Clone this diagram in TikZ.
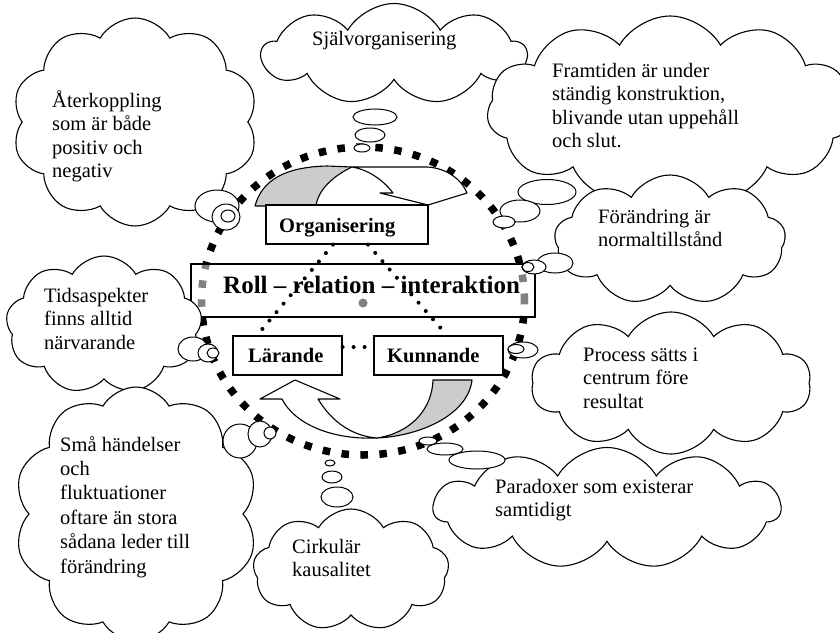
\documentclass[tikz,border=0pt]{standalone}
\usepackage{fontspec}
\setmainfont{Liberation Serif}
\usetikzlibrary{shapes.symbols,shapes.geometric}
\tikzset{
 cloudbox/.style={cloud, cloud puffs=#1, cloud puff arc=120, cloud ignores aspect, draw, fill=white, line width=1.1pt, inner sep=0pt},
 bub/.style={ellipse, draw, fill=white, line width=1pt, inner sep=0pt},
 ctext/.style={font=\fontsize{20.5}{23.5}\selectfont, align=left, anchor=base west, inner sep=0pt},
 lbox/.style={rectangle, draw, line width=1.2pt, fill=white, inner sep=0pt},
 ltext/.style={font=\bfseries\fontsize{20.5}{24}\selectfont, anchor=base west, inner sep=0pt},
 ringline/.style={line width=7.5pt, dash pattern=on 7.5pt off 11.5pt},
 dotline/.style={line width=4pt, line cap=round, dash pattern=on 0pt off 11pt},
 arrowbody/.style={draw, line width=1.1pt, line join=round}
}
\begin{document}
\begin{tikzpicture}[x=1pt,y=-1pt]
\useasboundingbox (0,0) rectangle (840,632);
% big dashed ring
\draw[ringline] (363,301) ellipse [x radius=161.5pt, y radius=154pt];
% top curved arrow
\filldraw[arrowbody, fill=white] (352,167) -- (427,167) .. controls (447,168) and (462,180) .. (467,193) -- (428,205) -- (380,193) -- (393,193) .. controls (385,182) and (370,170) .. (352,167) -- cycle;
\filldraw[arrowbody, fill=gray!40] (255,206) .. controls (262,180) and (285,167) .. (327,166) -- (352,167) .. controls (333,176) and (318,190) .. (316,206) -- cycle;
% bottom curved arrow
\filldraw[arrowbody, fill=white] (295,380) -- (340,399) -- (318,399) .. controls (332,422) and (352,436) .. (377,438) .. controls (330,440) and (294,423) .. (282,399) -- (260,399) -- cycle;
\filldraw[arrowbody, fill=gray!40] (377,438) .. controls (420,436) and (468,415) .. (472,380) -- (433,380) .. controls (432,410) and (410,433) .. (377,438) -- cycle;
% boxes
\node[lbox, minimum width=162pt, minimum height=39pt] (org) at (347,224.5) {};
\node[lbox, minimum width=344pt, minimum height=53pt, fill opacity=0.5] (roll) at (363,290.5) {};
\node[lbox, minimum width=109pt, minimum height=39pt] (lar) at (287.5,355.5) {};
\node[lbox, minimum width=129pt, minimum height=39pt] (kun) at (438.5,355.5) {};
\node[ltext] (orgt) at (279,232) {Organisering};
\node[ltext, font=\bfseries\fontsize{25}{30}\selectfont] (rollt) at (223,293) {Roll – relation – interaktion};
\node[ltext] (lart) at (248,362) {Lärande};
\node[ltext] (kunt) at (387,362) {Kunnande};
% dotted links
\draw[dotline] ([xshift=-14pt]org.south) -- ([xshift=-30.5pt]lar.north);
\draw[dotline] ([xshift=21pt]org.south) -- ([xshift=8.5pt]kun.north);
\draw[dotline] ([yshift=8.5pt]lar.east) -- ([yshift=8.5pt]kun.west);
\node[circle, fill=gray, inner sep=0pt, minimum size=9pt] (mid) at (363,303) {};
% clouds
\node[cloudbox=10, minimum width=246pt, minimum height=208pt] (c1) at (135,122) {};
\node[cloudbox=9, minimum width=264pt, minimum height=101pt] (c2) at (394,54) {};
\node[cloudbox=11, minimum width=366pt, minimum height=188pt] (c3) at (670,110) {};
\node[cloudbox=9, minimum width=231pt, minimum height=130pt] (c4) at (670,240) {};
\node[cloudbox=9, minimum width=196pt, minimum height=138pt] (c5) at (104,325) {};
\node[cloudbox=10, minimum width=244pt, minimum height=254pt] (c6) at (136,514) {};
\node[cloudbox=9, minimum width=196pt, minimum height=122pt] (c7) at (351,570) {};
\node[cloudbox=10, minimum width=280pt, minimum height=142pt] (c8) at (671,383) {};
\node[cloudbox=11, minimum width=347pt, minimum height=121pt] (c9) at (607,508) {};
% thought bubbles
\node[bub, minimum width=44pt, minimum height=32pt] (b1a) at (217,206) {};
\node[bub, minimum width=28pt, minimum height=26pt] (b1b) at (226,217) {};
\node[bub, minimum width=14pt, minimum height=12pt] (b1c) at (228,216) {};
\node[bub, minimum width=44pt, minimum height=16pt] (b2a) at (375,117) {};
\node[bub, minimum width=30pt, minimum height=14pt] (b2b) at (370,135) {};
\node[bub, minimum width=16pt, minimum height=8pt] (b2c) at (362,148) {};
\node[bub, minimum width=58pt, minimum height=25pt] (b3a) at (547,192) {};
\node[bub, minimum width=40pt, minimum height=22pt] (b3b) at (520,211) {};
\node[bub, minimum width=22pt, minimum height=12pt] (b3c) at (504,222) {};
\node[bub, minimum width=36pt, minimum height=20pt] (b4a) at (555,263) {};
\node[bub, minimum width=24pt, minimum height=14pt] (b4b) at (534,267) {};
\node[bub, minimum width=12pt, minimum height=9pt] (b4c) at (528,267) {};
\node[bub, minimum width=30pt, minimum height=24pt] (b5a) at (193,349) {};
\node[bub, minimum width=20pt, minimum height=18pt] (b5b) at (208,353) {};
\node[bub, minimum width=12pt, minimum height=10pt] (b5c) at (213,353) {};
\node[bub, minimum width=34pt, minimum height=34pt] (b6a) at (240,441) {};
\node[bub, minimum width=24pt, minimum height=26pt] (b6b) at (260,434) {};
\node[bub, minimum width=12pt, minimum height=12pt] (b6c) at (270,433) {};
\node[bub, minimum width=10pt, minimum height=6pt] (b7a) at (330,463) {};
\node[bub, minimum width=20pt, minimum height=12pt] (b7b) at (332,477) {};
\node[bub, minimum width=32pt, minimum height=20pt] (b7c) at (337,497) {};
\node[bub, minimum width=30pt, minimum height=16pt] (b8a) at (523,350) {};
\node[bub, minimum width=16pt, minimum height=9pt] (b8b) at (516,349) {};
\node[bub, minimum width=56pt, minimum height=18pt] (b9a) at (477,460) {};
\node[bub, minimum width=36pt, minimum height=12pt] (b9b) at (445,449) {};
\node[bub, minimum width=18pt, minimum height=8pt] (b9c) at (428,441) {};
% cloud texts (anchored at the baseline of the last line)
\node[ctext] (t1) at (52,177.5) {Återkoppling\\som är både\\positiv och\\negativ};
\node[ctext] (t2) at (312,45) {Självorganisering};
\node[ctext] (t3) at (552,147.5) {Framtiden är under\\ständig konstruktion,\\blivande utan uppehåll\\och slut.};
\node[ctext] (t4) at (598,246.5) {Förändring är\\normaltillstånd};
\node[ctext] (t5) at (44,349) {Tidsaspekter\\finns alltid\\närvarande};
\node[ctext, font=\fontsize{20.5}{24.4}\selectfont] (t6) at (60,573) {Små händelser\\och\\fluktuationer\\oftare än stora\\sådana leder till\\förändring};
\node[ctext] (t7) at (292,576.5) {Cirkulär\\kausalitet};
\node[ctext] (t8) at (583,408) {Process sätts i\\centrum före\\resultat};
\node[ctext] (t9) at (495,516.5) {Paradoxer som existerar\\samtidigt};
\end{tikzpicture}
\end{document}
